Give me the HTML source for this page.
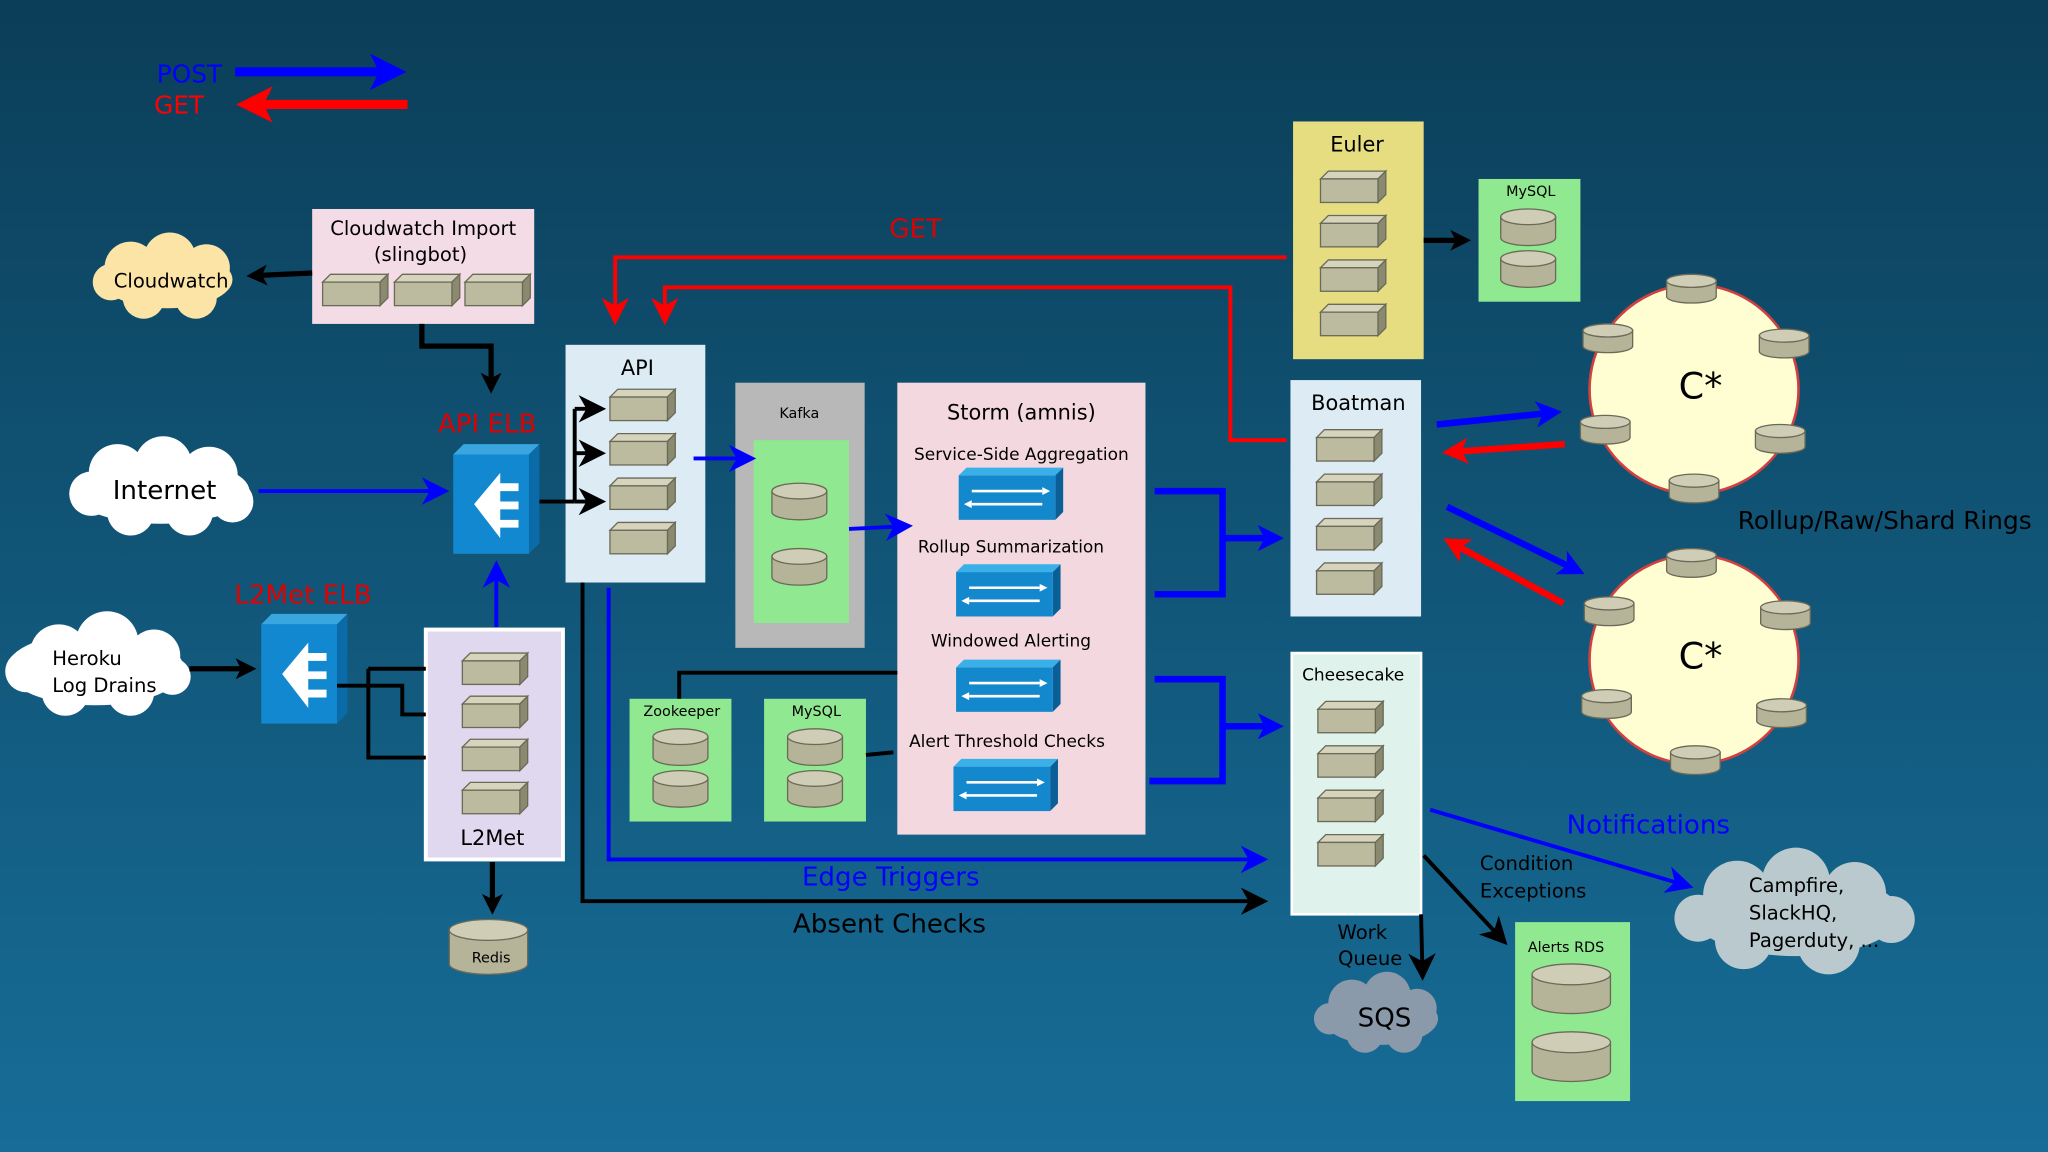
<!DOCTYPE html>
<html><head><meta charset="utf-8"><style>html,body{margin:0;padding:0;overflow:hidden}svg{display:block}text{font-family:"DejaVu Sans","Liberation Sans",sans-serif}</style></head><body>
<svg width="2048" height="1152" viewBox="0 0 1568 882" xmlns="http://www.w3.org/2000/svg">
<defs>
<linearGradient id="bg" x1="0" y1="0" x2="0" y2="1"><stop offset="0" stop-color="#0b3e58"/><stop offset="1" stop-color="#176d98"/></linearGradient>
<g id="srv"><path d="M0,6 L6,0 L50,0 L44,6Z" fill="#d6d4bc" stroke="#6a6a58" stroke-width="1"/><path d="M44,6 L50,0 L50,18 L44,24Z" fill="#8a8a70" stroke="#6a6a58" stroke-width="1"/><rect x="0" y="6" width="44" height="18" fill="#bdbb9f" stroke="#6a6a58" stroke-width="1"/></g>
<g id="db"><path d="M-21,0 L-21,16 A21,6 0 0 0 21,16 L21,0Z" fill="#b5b398" stroke="#6a6a58"/><ellipse cx="0" cy="0" rx="21" ry="6" fill="#cfcdb5" stroke="#6a6a58"/></g>
<g id="rdb"><path d="M-30,0 L-30,26 A30,8 0 0 0 30,26 L30,0Z" fill="#b5b398" stroke="#6a6a58"/><ellipse cx="0" cy="0" rx="30" ry="8" fill="#cfcdb5" stroke="#6a6a58"/></g>
<g id="bdb"><path d="M-30,0 L-30,22 A30,8 0 0 0 30,22 L30,0Z" fill="#b5b398" stroke="#6a6a58"/><ellipse cx="0" cy="0" rx="30" ry="8" fill="#cfcdb5" stroke="#6a6a58"/></g>
<g id="sdb"><path d="M-19,0 L-19,12 A19,5 0 0 0 19,12 L19,0Z" fill="#b5b398" stroke="#6a6a58"/><ellipse cx="0" cy="0" rx="19" ry="5" fill="#cfcdb5" stroke="#6a6a58"/></g>
<g id="elb"><path d="M0,8 L8,0 L66,0 L58,8Z" fill="#3aa6e0"/><path d="M58,8 L66,0 L66,76 L58,84Z" fill="#0b6aa8"/><rect x="0" y="8" width="58" height="76" fill="#1288d0"/><path d="M16,46 L36,22 L36,30 L50,30 L50,36 L36,36 L36,44 L50,44 L50,50 L36,50 L36,58 L50,58 L50,64 L36,64 L36,72Z" fill="#fff"/></g>
<g id="stm"><path d="M0,6 L6,0 L80,0 L74,6Z" fill="#3ab0e8"/><path d="M74,6 L80,0 L80,34 L74,40Z" fill="#0a5f98"/><rect x="0" y="6" width="74" height="34" fill="#1488cc"/><path d="M10,18 L64,18 M10,28 L64,28" stroke="#fff" stroke-width="2"/><path d="M64,15 L70,18 L64,21Z M10,25 L4,28 L10,31Z" fill="#fff"/></g>
<marker id="ak" markerWidth="4" markerHeight="4" refX="2.4" refY="2" orient="auto" markerUnits="strokeWidth"><path d="M0,0 L4,2 L0,4 L1,2Z" fill="#000"/></marker>
<marker id="ab" markerWidth="4" markerHeight="4" refX="2.4" refY="2" orient="auto" markerUnits="strokeWidth"><path d="M0,0 L4,2 L0,4 L1,2Z" fill="#0000ff"/></marker>
<marker id="ar" markerWidth="4" markerHeight="4" refX="2.4" refY="2" orient="auto" markerUnits="strokeWidth"><path d="M0,0 L4,2 L0,4 L1,2Z" fill="#ff0000"/></marker>
<marker id="akL" markerWidth="7" markerHeight="7" refX="4" refY="3.5" orient="auto" markerUnits="strokeWidth"><path d="M0,0 L7,3.5 L0,7 L2,3.5Z" fill="#000"/></marker>
<marker id="abL" markerWidth="7" markerHeight="7" refX="4" refY="3.5" orient="auto" markerUnits="strokeWidth"><path d="M0,0 L7,3.5 L0,7 L2,3.5Z" fill="#0000ff"/></marker>
<marker id="arL" markerWidth="7" markerHeight="7" refX="4" refY="3.5" orient="auto" markerUnits="strokeWidth"><path d="M0,0 L7,3.5 L0,7 L2,3.5Z" fill="#ff0000"/></marker>
</defs>
<rect width="1568" height="882" fill="url(#bg)"/>

<!-- legend -->
<text x="120" y="63" font-size="19" fill="#0000ff">POST</text>
<text x="118" y="87" font-size="19" fill="#ff0000">GET</text>
<line x1="180" y1="55" x2="300" y2="55" stroke="#0000ff" stroke-width="7" marker-end="url(#ab)"/>
<line x1="312" y1="80" x2="192" y2="80" stroke="#ff0000" stroke-width="7" marker-end="url(#ar)"/>

<!-- clouds -->
<g fill="#fbe4a6"><ellipse cx="128" cy="214" rx="50" ry="22"/><circle cx="100" cy="205" r="20"/><circle cx="130" cy="198" r="20"/><circle cx="158" cy="205" r="18"/><circle cx="110" cy="228" r="16"/><circle cx="150" cy="228" r="16"/><circle cx="85" cy="216" r="14"/></g>
<text x="131" y="220" font-size="15" text-anchor="middle">Cloudwatch</text>
<g fill="#fff"><ellipse cx="123" cy="376" rx="68" ry="25"/><circle cx="90" cy="362" r="22"/><circle cx="125" cy="356" r="22"/><circle cx="160" cy="364" r="22"/><circle cx="100" cy="392" r="18"/><circle cx="145" cy="392" r="18"/><circle cx="70" cy="378" r="17"/><circle cx="178" cy="384" r="16"/></g>
<text x="126" y="382" font-size="20" text-anchor="middle">Internet</text>
<g fill="#fff"><ellipse cx="73" cy="512" rx="68" ry="28"/><circle cx="45" cy="500" r="22"/><circle cx="82" cy="492" r="24"/><circle cx="118" cy="502" r="20"/><circle cx="50" cy="530" r="18"/><circle cx="100" cy="530" r="18"/><circle cx="20" cy="514" r="16"/><circle cx="132" cy="518" r="14"/></g>
<text x="40" y="509" font-size="15">Heroku</text><text x="40" y="530" font-size="15">Log Drains</text>
<g fill="#b9c9cd"><ellipse cx="1375" cy="700" rx="80" ry="32"/><circle cx="1330" cy="685" r="26"/><circle cx="1375" cy="675" r="26"/><circle cx="1420" cy="684" r="24"/><circle cx="1335" cy="720" r="22"/><circle cx="1400" cy="722" r="24"/><circle cx="1300" cy="703" r="18"/><circle cx="1448" cy="704" r="18"/></g>
<text x="1339" y="683" font-size="15">Campfire,</text><text x="1339" y="704" font-size="15">SlackHQ,</text><text x="1339" y="725" font-size="15">Pagerduty, ...</text>
<g fill="#8a9aaa"><ellipse cx="1057" cy="780" rx="44" ry="20"/><circle cx="1035" cy="768" r="18"/><circle cx="1062" cy="762" r="18"/><circle cx="1085" cy="772" r="15"/><circle cx="1045" cy="792" r="14"/><circle cx="1075" cy="792" r="14"/><circle cx="1018" cy="780" r="12"/></g>
<text x="1060" y="786" font-size="20" text-anchor="middle">SQS</text>

<!-- Cloudwatch import -->
<rect x="239" y="160" width="170" height="88" fill="#f4dce6"/>
<text x="324" y="180" font-size="15" text-anchor="middle">Cloudwatch Import</text>
<text x="322" y="200" font-size="15" text-anchor="middle">(slingbot)</text>
<use href="#srv" x="247" y="210"/><use href="#srv" x="302" y="210"/><use href="#srv" x="356" y="210"/>
<line x1="239" y1="209" x2="195" y2="211" stroke="#000" stroke-width="4" marker-end="url(#ak)"/>
<path d="M323,248 L323,265 L376,265 L376,295" fill="none" stroke="#000" stroke-width="4" marker-end="url(#ak)"/>

<!-- ELBs -->
<text x="373" y="331" font-size="20" fill="#e00000" text-anchor="middle">API ELB</text>
<use href="#elb" x="347" y="340"/>
<line x1="198" y1="376" x2="335" y2="376" stroke="#0000ff" stroke-width="3" marker-end="url(#abL)"/>
<text x="232" y="462" font-size="20" fill="#e00000" text-anchor="middle">L2Met ELB</text>
<use href="#elb" x="200" y="470"/>
<line x1="145" y1="512" x2="190" y2="512" stroke="#000" stroke-width="4" marker-end="url(#ak)"/>
<line x1="380" y1="480" x2="380" y2="438" stroke="#0000ff" stroke-width="3" marker-end="url(#abL)"/>

<!-- L2Met -->
<rect x="326" y="482" width="105" height="176" fill="#e0d8ee" stroke="#fff" stroke-width="3"/>
<use href="#srv" x="354" y="500"/><use href="#srv" x="354" y="533"/><use href="#srv" x="354" y="566"/><use href="#srv" x="354" y="599"/>
<text x="377" y="647" font-size="16" text-anchor="middle">L2Met</text>
<path d="M258,525 L308,525 L308,547 L326,547 M282,512 L326,512 M282,512 L282,580 L326,580" fill="none" stroke="#000" stroke-width="3"/>
<line x1="377" y1="660" x2="377" y2="694" stroke="#000" stroke-width="4" marker-end="url(#ak)"/>
<use href="#rdb" x="374" y="712"/>
<text x="376" y="737" font-size="11" text-anchor="middle">Redis</text>

<!-- API -->
<rect x="433" y="264" width="107" height="182" fill="#dcebf4"/>
<text x="488" y="287" font-size="16" text-anchor="middle">API</text>
<use href="#srv" x="467" y="298"/><use href="#srv" x="467" y="332"/><use href="#srv" x="467" y="366"/><use href="#srv" x="467" y="400"/>
<path d="M413,384 L440,384 M440,313 L440,384" stroke="#000" stroke-width="3"/>
<line x1="440" y1="313" x2="455" y2="313" stroke="#000" stroke-width="3" marker-end="url(#akL)"/>
<line x1="440" y1="347" x2="455" y2="347" stroke="#000" stroke-width="3" marker-end="url(#akL)"/>
<line x1="440" y1="384" x2="455" y2="384" stroke="#000" stroke-width="3" marker-end="url(#akL)"/>

<!-- red GET lines -->
<text x="701" y="182" font-size="20" fill="#e00000" text-anchor="middle">GET</text>
<path d="M985,197 L471,197 L471,240" fill="none" stroke="#ff0000" stroke-width="3" marker-end="url(#arL)"/>
<path d="M985,337 L942,337 L942,220 L509,220 L509,240" fill="none" stroke="#ff0000" stroke-width="3" marker-end="url(#arL)"/>

<!-- Kafka -->
<rect x="563" y="293" width="99" height="203" fill="#b8b8b8"/>
<text x="612" y="320" font-size="11" text-anchor="middle">Kafka</text>
<rect x="577" y="337" width="73" height="140" fill="#90e890"/>
<use href="#db" x="612" y="376"/><use href="#db" x="612" y="426"/>

<!-- Storm -->
<rect x="687" y="293" width="190" height="346" fill="#f4d8e0"/>
<text x="782" y="321" font-size="16" text-anchor="middle">Storm (amnis)</text>
<text x="782" y="352" font-size="13" text-anchor="middle">Service-Side Aggregation</text>
<use href="#stm" x="734" y="358"/>
<text x="774" y="423" font-size="13" text-anchor="middle">Rollup Summarization</text>
<use href="#stm" x="732" y="432"/>
<text x="774" y="495" font-size="13" text-anchor="middle">Windowed Alerting</text>
<use href="#stm" x="732" y="505"/>
<text x="771" y="572" font-size="13" text-anchor="middle">Alert Threshold Checks</text>
<use href="#stm" x="730" y="581"/>

<line x1="531" y1="351" x2="570" y2="351" stroke="#0000ff" stroke-width="3" marker-end="url(#abL)"/>
<line x1="650" y1="405" x2="690" y2="403" stroke="#0000ff" stroke-width="3" marker-end="url(#abL)"/>

<!-- Zookeeper / MySQL -->
<rect x="482" y="535" width="78" height="94" fill="#90e890"/>
<text x="522" y="548" font-size="11" text-anchor="middle">Zookeeper</text>
<use href="#db" x="521" y="564"/><use href="#db" x="521" y="596"/>
<rect x="585" y="535" width="78" height="94" fill="#90e890"/>
<text x="625" y="548" font-size="11" text-anchor="middle">MySQL</text>
<use href="#db" x="624" y="564"/><use href="#db" x="624" y="596"/>
<path d="M520,535 L520,515 L687,515 M663,578 L684,576" fill="none" stroke="#000" stroke-width="3"/>

<!-- blue brackets -->
<path d="M884,376 L936,376 L936,455 L884,455" fill="none" stroke="#0000ff" stroke-width="5"/>
<line x1="936" y1="412" x2="975" y2="412" stroke="#0000ff" stroke-width="5" marker-end="url(#ab)"/>
<path d="M884,520 L936,520 L936,598 L880,598" fill="none" stroke="#0000ff" stroke-width="5"/>
<line x1="936" y1="556" x2="975" y2="556" stroke="#0000ff" stroke-width="5" marker-end="url(#ab)"/>

<!-- Edge triggers / absent -->
<path d="M466,450 L466,658 L962,658" fill="none" stroke="#0000ff" stroke-width="3" marker-end="url(#abL)"/>
<text x="682" y="678" font-size="20" fill="#0000ff" text-anchor="middle">Edge Triggers</text>
<path d="M446,446 L446,690 L962,690" fill="none" stroke="#000" stroke-width="3" marker-end="url(#akL)"/>
<text x="681" y="714" font-size="20" text-anchor="middle">Absent Checks</text>

<!-- Euler -->
<rect x="990" y="93" width="100" height="182" fill="#e6dc80"/>
<text x="1039" y="116" font-size="16" text-anchor="middle">Euler</text>
<use href="#srv" x="1011" y="131"/><use href="#srv" x="1011" y="165"/><use href="#srv" x="1011" y="199"/><use href="#srv" x="1011" y="233"/>
<line x1="1090" y1="184" x2="1120" y2="184" stroke="#000" stroke-width="4" marker-end="url(#ak)"/>
<rect x="1132" y="137" width="78" height="94" fill="#90e890"/>
<text x="1172" y="150" font-size="11" text-anchor="middle">MySQL</text>
<use href="#db" x="1170" y="166"/><use href="#db" x="1170" y="198"/>

<!-- Boatman -->
<rect x="988" y="291" width="100" height="181" fill="#dcebf4"/>
<text x="1040" y="314" font-size="16" text-anchor="middle">Boatman</text>
<use href="#srv" x="1008" y="329"/><use href="#srv" x="1008" y="363"/><use href="#srv" x="1008" y="397"/><use href="#srv" x="1008" y="431"/>

<!-- Cheesecake -->
<rect x="989" y="500" width="99" height="200" fill="#e0f2ec" stroke="#fff" stroke-width="2"/>
<text x="1036" y="521" font-size="13" text-anchor="middle">Cheesecake</text>
<use href="#srv" x="1009" y="537"/><use href="#srv" x="1009" y="571"/><use href="#srv" x="1009" y="605"/><use href="#srv" x="1009" y="639"/>

<!-- rings -->
<circle cx="1297" cy="298" r="80" fill="#fefed2" stroke="#d04040" stroke-width="2"/>
<text x="1302" y="305" font-size="28" text-anchor="middle">C*</text>
<use href="#sdb" x="1295" y="215"/><use href="#sdb" x="1231" y="253"/><use href="#sdb" x="1366" y="257"/><use href="#sdb" x="1229" y="323"/><use href="#sdb" x="1363" y="330"/><use href="#sdb" x="1297" y="368"/>
<circle cx="1297" cy="505" r="80" fill="#fefed2" stroke="#d04040" stroke-width="2"/>
<text x="1302" y="512" font-size="28" text-anchor="middle">C*</text>
<use href="#sdb" x="1295" y="425"/><use href="#sdb" x="1232" y="462"/><use href="#sdb" x="1367" y="465"/><use href="#sdb" x="1230" y="533"/><use href="#sdb" x="1364" y="540"/><use href="#sdb" x="1298" y="576"/>
<text x="1443" y="405" font-size="19" text-anchor="middle">Rollup/Raw/Shard Rings</text>
<line x1="1100" y1="325" x2="1188" y2="316" stroke="#0000ff" stroke-width="5" marker-end="url(#ab)"/>
<line x1="1198" y1="340" x2="1112" y2="346" stroke="#ff0000" stroke-width="5" marker-end="url(#ar)"/>
<line x1="1108" y1="388" x2="1206" y2="436" stroke="#0000ff" stroke-width="5" marker-end="url(#ab)"/>
<line x1="1197" y1="462" x2="1112" y2="416" stroke="#ff0000" stroke-width="5" marker-end="url(#ar)"/>

<!-- notifications etc -->
<text x="1262" y="638" font-size="20" fill="#0000ff" text-anchor="middle">Notifications</text>
<line x1="1095" y1="620" x2="1288" y2="677" stroke="#0000ff" stroke-width="3" marker-end="url(#abL)"/>
<text x="1133" y="666" font-size="15">Condition</text><text x="1133" y="687" font-size="15">Exceptions</text>
<line x1="1090" y1="655" x2="1148" y2="717" stroke="#000" stroke-width="3" marker-end="url(#akL)"/>
<rect x="1160" y="706" width="88" height="137" fill="#90e890"/>
<text x="1199" y="729" font-size="11" text-anchor="middle">Alerts RDS</text>
<use href="#bdb" x="1203" y="746"/><use href="#bdb" x="1203" y="798"/>
<text x="1043" y="719" font-size="15" text-anchor="middle">Work</text><text x="1049" y="739" font-size="15" text-anchor="middle">Queue</text>
<line x1="1088" y1="700" x2="1089" y2="742" stroke="#000" stroke-width="3" marker-end="url(#akL)"/>
</svg>
</body></html>
